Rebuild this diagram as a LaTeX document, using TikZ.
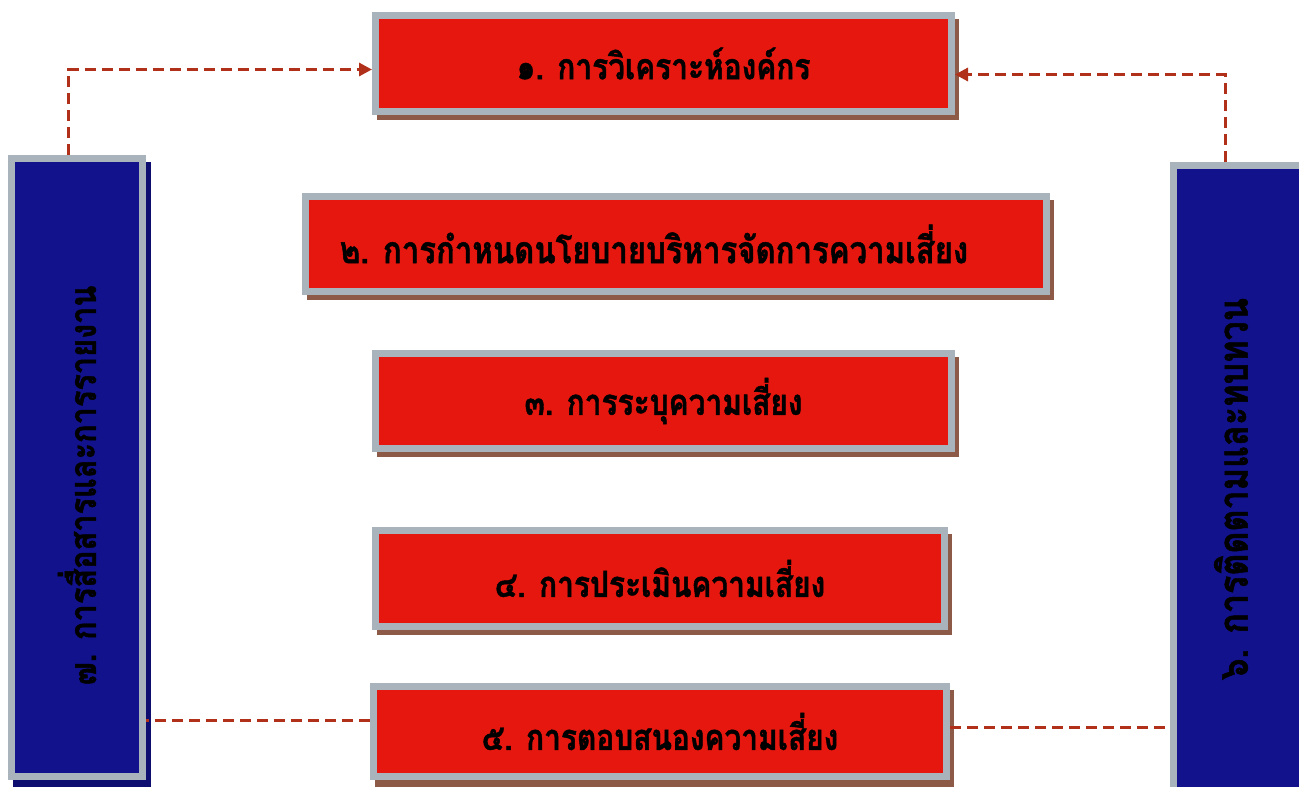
\documentclass[tikz,border=0pt]{standalone}
\usepackage{fontspec}
\newfontfamily\thaifont[Script=Thai, FakeStretch=0.83, BoldFeatures={FakeBold=1.2}]{Loma}
\usetikzlibrary{arrows.meta}
\definecolor{boxred}{HTML}{E5170F}
\definecolor{boxgrey}{HTML}{A9B3BC}
\definecolor{boxblue}{HTML}{12128C}
\definecolor{shadowc}{HTML}{8E5A48}
\definecolor{linered}{HTML}{B0301A}
\tikzset{
  redbox/.style={draw=boxgrey, line width=7pt, fill=boxred, inner sep=0pt,
    font=\thaifont\bfseries\fontsize{36}{40}\selectfont, text=black},
  bluebox/.style={draw=boxgrey, line width=7pt, fill=boxblue, inner sep=0pt},
  vtext/.style={rotate=90, inner sep=0pt, text=black},
  link/.style={draw=linered, line width=3pt, dash pattern=on 11pt off 6pt},
  linkarrow/.style={link, -{Triangle[length=13pt,width=13pt]}},
}
\begin{document}
\begin{tikzpicture}[x=1pt,y=-1pt]
\useasboundingbox[fill=white] (0,0) rectangle (1299,787);
\clip (0,0) rectangle (1299,787);
% shadows
\fill[shadowc] (377,19) rectangle (959,120);
\fill[shadowc] (307,200) rectangle (1054,300);
\fill[shadowc] (377,357) rectangle (959,457);
\fill[shadowc] (377,534) rectangle (952,635);
\fill[shadowc] (375,690) rectangle (954,787);
\fill[boxblue!80!black] (13,162) rectangle (151,787);
% boxes
\node[redbox, minimum width=576pt, minimum height=96pt] (b1) at (663.5,63.5) {๑. การวิเคราะห์องค์กร};
\node[redbox, minimum width=741pt, minimum height=95pt, font=\thaifont\bfseries\fontsize{37.5}{40}\selectfont] (b2) at (676,244) {๒. การกำหนดนโยบายบริหารจัดการความเสี่ยง\hspace*{44pt}};
\node[redbox, minimum width=576pt, minimum height=95pt] (b3) at (663.5,401) {๓. การระบุความเสี่ยง};
\node[redbox, minimum width=569pt, minimum height=96pt] (b4) at (660,578.5) {๔. การประเมินความเสี่ยง};
\node[redbox, minimum width=573pt, minimum height=90pt] (b5) at (660,731.5) {๕. การตอบสนองความเสี่ยง};
\node[bluebox, minimum width=131pt, minimum height=618pt] (L) at (77,467.5) {};
\node[bluebox, minimum width=135pt, minimum height=628pt] (R) at (1241,479) {};
\node[vtext, font=\thaifont\bfseries\fontsize{37}{40}\selectfont] (Lt) at ([yshift=-18pt]L.center) {๗. การสื่อสารและการรายงาน};
\node[vtext, font=\thaifont\bfseries\fontsize{41}{44}\selectfont] (Rt) at ([xshift=-10pt,yshift=-10pt]R.center) {๖. การติดตามและทบทวน};
% connectors
\draw[linkarrow] ([xshift=-9pt]L.north) |- ([yshift=-6pt]b1.west);
\draw[linkarrow] ([xshift=-16pt]R.north) |- ([yshift=-11pt]b1.east);
\draw[link] ([yshift=11pt]b5.west) -- ([yshift=11pt]b5.west -| L.east);
\draw[link] ([yshift=4pt]b5.east) -- ([yshift=4pt]b5.east -| R.west);
\end{tikzpicture}
\end{document}
